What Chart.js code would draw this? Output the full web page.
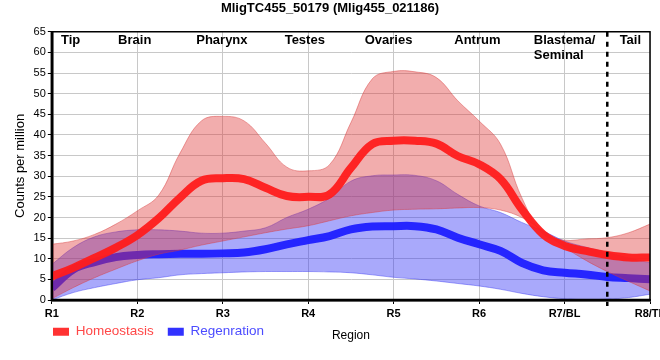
<!DOCTYPE html>
<html>
<head>
<meta charset="utf-8">
<script src="https://cdn.jsdelivr.net/npm/chart.js@4.4.1/dist/chart.umd.min.js"></script>
<style>
html,body{margin:0;padding:0;background:#fff;}
canvas{display:block;}
</style>
</head>
<body>
<canvas id="c" width="660" height="360"></canvas>
<script>
// ---- data ----
const chartTitle = 'MligTC455_50179 (Mlig455_021186)';
const xTickLabels = ['R1', 'R2', 'R3', 'R4', 'R5', 'R6', 'R7/BL', 'R8/TL'];
const xs = [1, 1.25, 1.5, 1.75, 2, 2.25, 2.5, 2.75, 3, 3.25, 3.5, 3.75, 4, 4.25, 4.5, 4.75, 5, 5.25, 5.5, 5.75, 6, 6.25, 6.5, 6.75, 7, 7.25, 7.5, 7.75, 8];
const homeoMean  = [5.7, 7.8, 10.2, 12.7, 15.7, 19.8, 24.8, 28.9, 29.5, 29.3, 27.2, 25.2, 25.0, 25.6, 32.0, 37.8, 38.6, 38.6, 37.9, 34.9, 32.9, 29.3, 22.0, 15.9, 13.1, 11.9, 10.9, 10.3, 10.3];
const homeoUpper = [13.5, 14.3, 15.9, 18.4, 21.6, 25.4, 35.6, 43.4, 44.5, 43.4, 38.0, 32.2, 31.3, 32.8, 43.0, 53.6, 55.4, 55.3, 53.9, 48.3, 43.4, 37.8, 24.8, 16.0, 14.5, 14.8, 15.1, 16.3, 18.4];
const homeoLower = [0.3, 3.0, 5.4, 7.5, 9.5, 11.1, 12.1, 13.3, 14.3, 15.3, 16.3, 17.2, 18.0, 19.2, 20.4, 21.2, 21.8, 22.0, 22.1, 22.3, 22.4, 21.8, 20.0, 16.7, 12.8, 9.6, 6.9, 4.5, 2.2];
const regenMean  = [2.9, 7.4, 9.2, 10.4, 10.9, 11.1, 11.2, 11.2, 11.3, 11.5, 12.3, 13.5, 14.5, 15.5, 17.1, 17.8, 17.9, 17.9, 17.1, 15.1, 13.5, 11.9, 9.0, 7.2, 6.6, 6.2, 5.6, 5.3, 5.0];
const regenUpper = [8.6, 12.7, 15.3, 16.5, 17.0, 17.0, 16.7, 16.2, 16.2, 16.7, 17.5, 20.0, 22.0, 24.7, 28.8, 30.1, 30.3, 30.2, 28.9, 25.6, 22.8, 21.2, 18.8, 16.7, 14.3, 12.8, 11.5, 10.2, 9.0];
const regenLower = [0.0, 1.8, 3.0, 4.0, 4.9, 5.4, 6.1, 6.4, 6.6, 6.8, 6.9, 6.9, 6.9, 6.8, 6.6, 6.1, 5.5, 5.1, 4.6, 4.0, 3.4, 2.6, 1.6, 0.8, 0.3, 0.1, 0.2, 0.6, 1.4];
const regionNames = ['Tip', 'Brain', 'Pharynx', 'Testes', 'Ovaries', 'Antrum', 'Blastema/\nSeminal', 'Tail'];
const regionAt = [1.22, 1.97, 2.99, 3.96, 4.94, 5.98, 7.0, 7.77];
const dividerAt = 7.5;

// ---- chart ----
const FONT = "'Liberation Sans', Arial, sans-serif";
Chart.defaults.font.family = FONT;
Chart.defaults.color = '#000';

const pts = (arr) => arr.map((v, i) => ({x: xs[i], y: v}));

const overlay = {
  id: 'overlay',
  afterLayout(chart) {
    const lg = chart.legend;
    if (!lg) return;
    const h = 40;
    lg.top = 311; lg.bottom = 311 + h; lg.height = h;
    lg.left = 39;
  },
  afterDatasetsDraw(chart) {
    const {ctx, chartArea: a, scales: {x}} = chart;
    ctx.save();
    ctx.strokeStyle = '#000';
    // frame
    ctx.lineWidth = 1.5;
    ctx.beginPath();
    ctx.moveTo(a.left, a.top); ctx.lineTo(a.right, a.top); ctx.lineTo(a.right, a.bottom);
    ctx.stroke();
    ctx.lineWidth = 2.5;
    ctx.beginPath();
    ctx.moveTo(a.left, a.top); ctx.lineTo(a.left, a.bottom); ctx.lineTo(a.right, a.bottom);
    ctx.stroke();
    // divider
    const dx = x.getPixelForValue(dividerAt);
    ctx.setLineDash([5, 5]);
    ctx.lineWidth = 2.5;
    ctx.beginPath();
    ctx.moveTo(dx, a.top); ctx.lineTo(dx, a.bottom + 6);
    ctx.stroke();
    ctx.setLineDash([]);
    // region names
    ctx.font = 'bold 13px ' + FONT;
    ctx.fillStyle = '#000';
    ctx.textBaseline = 'middle';
    ctx.textAlign = 'left';
    regionNames.forEach((name, i) => {
      const lines = name.split('\n');
      const w = Math.max(...lines.map(l => ctx.measureText(l).width));
      const cx = x.getPixelForValue(regionAt[i]);
      lines.forEach((l, j) => ctx.fillText(l, cx - w / 2, a.top + 9 + j * 14.5));
    });
    ctx.restore();
  }
};

const lineCommon = {pointRadius: 0, tension: 0.4, borderJoinStyle: 'round'};

new Chart(document.getElementById('c'), {
  type: 'line',
  data: {
    datasets: [
      Object.assign({label: 'Homeostasis', data: pts(homeoMean), borderColor: 'rgba(255,28,28,0.95)', borderWidth: 8, fill: false,
        legendColor: '#ff3232', legendText: '#ff4848'}, lineCommon),
      Object.assign({label: 'Homeostasis upper', data: pts(homeoUpper), borderColor: 'rgba(215,60,60,0.45)', borderWidth: 1,
        backgroundColor: 'rgba(222,50,50,0.4)', fill: '+1'}, lineCommon),
      Object.assign({label: 'Homeostasis lower', data: pts(homeoLower), borderColor: 'rgba(215,60,60,0.45)', borderWidth: 1, fill: false}, lineCommon),
      Object.assign({label: 'Regenration', data: pts(regenMean), borderColor: 'rgba(30,30,255,0.95)', borderWidth: 8, fill: false,
        legendColor: '#3232ff', legendText: '#4c4cff'}, lineCommon),
      Object.assign({label: 'Regenration upper', data: pts(regenUpper), borderColor: 'rgba(60,60,240,0.45)', borderWidth: 1,
        backgroundColor: 'rgba(50,50,245,0.42)', fill: '+1'}, lineCommon),
      Object.assign({label: 'Regenration lower', data: pts(regenLower), borderColor: 'rgba(60,60,240,0.45)', borderWidth: 1, fill: false}, lineCommon)
    ]
  },
  options: {
    responsive: false,
    animation: false,
    events: [],
    layout: {padding: {left: 0, right: 0, top: 0, bottom: 16.4}},
    plugins: {
      title: {display: true, text: chartTitle, color: '#000', font: {size: 13, weight: 'bold'}, padding: {top: 1, bottom: 15.2}},
      tooltip: {enabled: false},
      legend: {
        display: true,
        position: 'bottom',
        align: 'start',
        maxHeight: 1,
        labels: {
          boxWidth: 16, boxHeight: 8, padding: 14, font: {size: 13.5},
          filter: (item) => item.datasetIndex === 0 || item.datasetIndex === 3,
          generateLabels(chart) {
            const items = Chart.defaults.plugins.legend.labels.generateLabels(chart);
            items.forEach(it => {
              const ds = chart.data.datasets[it.datasetIndex];
              it.fillStyle = ds.legendColor || ds.borderColor;
              it.strokeStyle = 'rgba(0,0,0,0)';
              it.lineWidth = 0;
              it.fontColor = ds.legendText || '#000';
            });
            return items;
          }
        }
      }
    },
    scales: {
      x: {
        type: 'linear', min: 1, max: 8,
        afterFit(s) { s.paddingRight = 10; },
        ticks: {stepSize: 1, autoSkip: false, maxRotation: 0, padding: 3, color: '#000', font: {size: 11, weight: 'bold'},
          callback: (v) => xTickLabels[Math.round(v) - 1]},
        grid: {color: '#c8c8c8', tickColor: '#000', tickLength: 4},
        border: {color: '#000', width: 2.5},
        title: {display: true, text: 'Region', color: '#000', font: {size: 12}, padding: {top: 5, bottom: 0}}
      },
      y: {
        min: 0, max: 65,
        ticks: {stepSize: 5, padding: 2, color: '#000', font: {size: 11}},
        grid: {color: '#c8c8c8', tickColor: '#000', tickLength: 4},
        border: {color: '#000', width: 2.5},
        title: {display: true, text: 'Counts per million', color: '#000', font: {size: 13}, padding: {top: 13, bottom: 3}}
      }
    }
  },
  plugins: [overlay]
});
</script>
</body>
</html>
